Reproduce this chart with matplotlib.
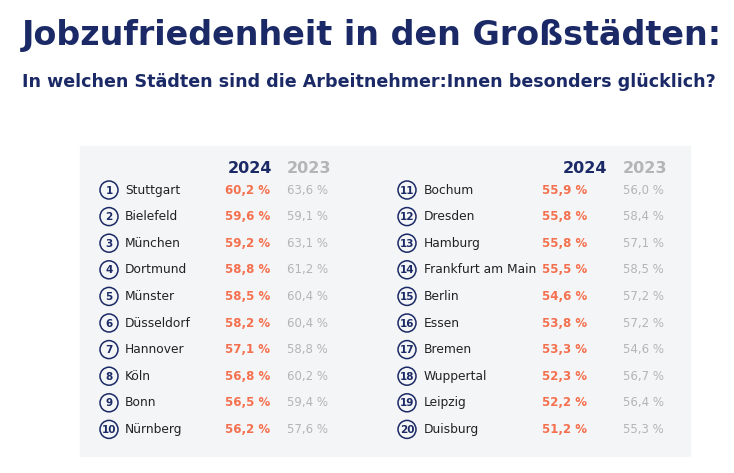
import matplotlib.pyplot as plt
from matplotlib.patches import Rectangle, Circle

NAVY = "#1b2a66"
ORANGE = "#f5704f"
GREY = "#b5b5b5"

cities_left = ["Stuttgart", "Bielefeld", "München", "Dortmund", "Münster",
               "Düsseldorf", "Hannover", "Köln", "Bonn", "Nürnberg"]
v2024_left = [60.2, 59.6, 59.2, 58.8, 58.5, 58.2, 57.1, 56.8, 56.5, 56.2]
v2023_left = [63.6, 59.1, 63.1, 61.2, 60.4, 60.4, 58.8, 60.2, 59.4, 57.6]

cities_right = ["Bochum", "Dresden", "Hamburg", "Frankfurt am Main", "Berlin",
                "Essen", "Bremen", "Wuppertal", "Leipzig", "Duisburg"]
v2024_right = [55.9, 55.8, 55.8, 55.5, 54.6, 53.8, 53.3, 52.3, 52.2, 51.2]
v2023_right = [56.0, 58.4, 57.1, 58.5, 57.2, 57.2, 54.6, 56.7, 56.4, 55.3]


def pct(v):
    return f"{v:.1f} %".replace(".", ",")


fig = plt.figure(figsize=(7.34, 4.73), dpi=100)
ax = fig.add_axes([0, 0, 1, 1])
ax.set_xlim(0, 734)
ax.set_ylim(473, 0)
ax.axis("off")

ax.text(22, 36, "Jobzufriedenheit in den Großstädten:", fontsize=24,
        fontweight="heavy", color=NAVY, va="center", family="DejaVu Sans")
ax.text(22, 82, "In welchen Städten sind die Arbeitnehmer:Innen besonders glücklich?",
        fontsize=12.6, fontweight="bold", color=NAVY, va="center",
        family="DejaVu Sans")

ax.add_patch(Rectangle((80, 146), 610, 310, color="#f4f5f6", zorder=0))

cols = [
    (0, 109, 125, 270, 328, 250, 309, cities_left, v2024_left, v2023_left),
    (10, 407, 424, 587, 664, 585, 645, cities_right, v2024_right, v2023_right),
]
for off, cx, nx, x24, x23, h24, h23, names, a, b in cols:
    ax.text(h24, 168, "2024", fontsize=11.5, fontweight="bold", color=NAVY,
            ha="center", va="center")
    ax.text(h23, 168, "2023", fontsize=11.5, fontweight="bold", color=GREY,
            ha="center", va="center")
    for i, (name, p, q) in enumerate(zip(names, a, b)):
        y = 190 + i * 26.6
        ax.add_patch(Circle((cx, y), 9, fill=False, ec=NAVY, lw=1.1))
        ax.text(cx, y + 0.5, str(off + i + 1), fontsize=7.5, fontweight="bold",
                color=NAVY, ha="center", va="center")
        ax.text(nx, y, name, fontsize=8.8, color="#222222", va="center")
        ax.text(x24, y, pct(p), fontsize=8.5, fontweight="bold", color=ORANGE,
                ha="right", va="center")
        ax.text(x23, y, pct(q), fontsize=8.5, color=GREY, ha="right", va="center")

fig.savefig("out.png", dpi=100)
